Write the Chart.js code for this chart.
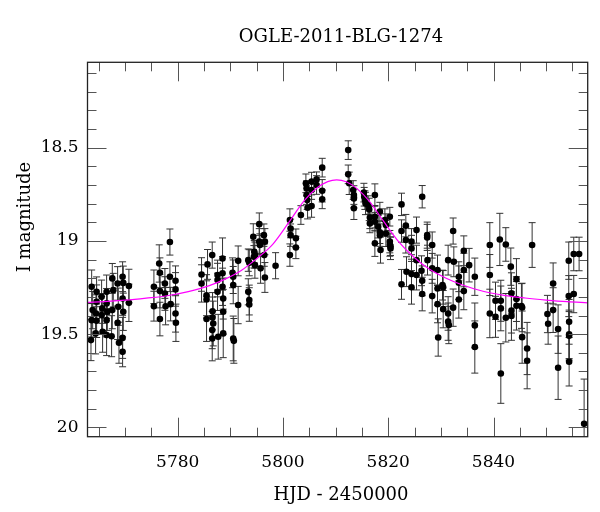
<!DOCTYPE html>
<html>
<head>
<meta charset="utf-8">
<script src="https://cdn.jsdelivr.net/npm/chart.js@4.4.1/dist/chart.umd.min.js"></script>
<style>
  html, body { margin: 0; padding: 0; background: #fff; }
</style>
</head>
<body>
<canvas id="lc" width="600" height="512"></canvas>
<script>
const titleText = 'OGLE-2011-BLG-1274';
const xLabel = 'HJD - 2450000';
const yLabel = 'I magnitude';
const xTicks = [5780, 5800, 5820, 5840];
const yTicks = [18.5, 19, 19.5, 20];
const xRange = [5762.85, 5857.9];
const yRange = [18.042, 20.05];

// OGLE photometry
const hjd = [
  5763.64,5763.83,5763.64,5763.51, 5764.58,5764.58,5764.46,5764.58,5764.39,
  5765.53,5765.66,5765.53,5765.72, 5766.48,5766.48,5766.61,5766.48,5766.48,
  5767.56,5767.75,5767.56,5767.43, 5768.57,5768.70,5768.57,5768.83,
  5769.52,5769.65,5769.52,5769.65,5769.52,5769.52, 5770.72,5770.72,
  5775.47,5775.47,5776.48,5776.61,5776.61,5776.61,5777.56,5777.56,5777.69,5778.51,5778.51,5778.64,5779.58,5779.58,5779.58,5779.65,
  5784.52,5784.52,5785.47,5785.47,5785.47,5785.66,5786.55,5786.61,5786.61,5786.74,5786.55,5786.55,5787.56,5787.56,5787.56,
  5787.69,5788.51,5788.51,5788.51,5788.64,5788.64,5788.64,5790.41,5790.54,5790.54,5790.54,5790.66,5791.48,5791.48,
  5793.40,5793.59,5793.40,5793.59,5793.59,5794.35,5794.54,5794.66,5794.47,5794.66,5795.49,5795.49,5795.61,5795.74,
  5796.37,5796.56,5796.44,5796.56,5798.59,
  5801.31,5801.44,5801.44,5801.31,5802.45,5802.45,5803.40,5804.35,5804.48,5804.48,5804.60,5804.67,5805.43,5805.43,
  5805.43,5806.38,5806.38,5807.45,5807.45,5807.45,
  5812.39,5812.39,5812.58,5813.34,5813.47,5813.47,5813.47,
  5815.37,5815.43,5815.56,5815.68,5816.19,5816.38,5816.51,5816.51,5817.46,5817.46,5817.46,5817.46,5818.09,5818.41,
  5818.41,5818.53,5818.41,5819.36,5819.55,5819.55,5820.30,5820.30,5820.30,5820.43,5820.43,
  5822.52,5822.52,5822.52,5823.34,5823.34,5823.47,5824.42,5824.42,5824.42,5824.42,
  5825.37,5825.37,5825.37,5826.45,5826.32,5826.45,5826.45,5827.40,5827.40,5827.46,
  5828.35,5828.35,5828.35,5829.36,5829.36,5829.36,5829.49,5830.31,5830.44,5830.44,
  5831.38,5831.38,5831.38,5831.51,5832.33,5832.46,5832.33,5833.41,5833.41,5833.41,
  5834.36,5834.36,5834.36,5835.37,5836.45,5836.45,5836.45,5839.30,5839.30,5839.30,
  5840.38,5840.38,5841.20,5841.39,5841.39,5841.39,5842.34,5842.34,5843.29,5843.41,
  5843.41,5843.41,5844.36,5844.36,5844.36,5845.31,5845.44,5845.44,5846.39,5846.39,
  5847.34,5850.25,5850.38,5851.33,5851.33,5852.28,5852.28,5854.30,5854.30,5854.37,
  5854.37,5854.37,5854.37,5855.25,5855.25,5856.27,5857.22
];
const mag = [
  19.246,19.371,19.425,19.532, 19.273,19.326,19.389,19.428,19.496,
  19.300,19.362,19.398,19.487, 19.273,19.335,19.380,19.425,19.505,
  19.201,19.264,19.371,19.511, 19.228,19.353,19.439,19.546,
  19.192,19.225,19.309,19.380,19.520,19.595, 19.242,19.332,
  19.246,19.350,19.121,19.171,19.269,19.419,19.228,19.282,19.350,19.006,19.192,19.339,19.214,19.260,19.389,19.439,
  19.180,19.228,19.291,19.314,19.419,19.126,19.076,19.377,19.411,19.443,19.478,19.523,19.183,19.210,19.273,
  19.514,19.094,19.174,19.246,19.309,19.380,19.496,19.171,19.192,19.237,19.523,19.536,19.107,19.344,
  19.103,19.117,19.273,19.317,19.341,18.978,19.058,19.076,19.085,19.130,18.910,19.004,19.022,19.147,
  18.969,19.004,19.076,19.196,19.133,
  18.888,18.933,18.969,19.076,18.986,19.035,18.861,18.691,18.718,18.754,18.781,18.822,18.682,18.727,
  18.813,18.670,18.700,18.607,18.731,18.777,
  18.513,18.643,18.691,18.727,18.754,18.772,18.825,
  18.741,18.763,18.781,18.799,18.808,18.831,18.874,18.906,18.754,18.870,18.897,19.013,18.924,18.954,
  18.969,19.049,18.843,18.888,18.915,18.960,18.870,19.004,19.022,19.028,19.040,
  18.804,18.947,19.233,18.918,18.995,19.165,19.004,19.040,19.178,19.249,
  18.942,19.183,19.103,18.763,19.160,19.214,19.285,18.969,18.981,19.103,
  19.022,19.147,19.296,19.156,19.255,19.339,19.518,19.237,19.249,19.366,
  19.103,19.389,19.433,19.451,18.947,19.112,19.358,19.192,19.224,19.314,
  19.053,19.156,19.269,19.130,19.192,19.453,19.569,19.022,19.183,19.389,
  19.321,19.407,18.992,19.321,19.362,19.711,19.019,19.412,19.138,19.281,
  19.374,19.403,19.205,19.312,19.348,19.349,19.357,19.516,19.577,19.643,
  19.022,19.392,19.444,19.228,19.371,19.473,19.680,19.106,19.296,19.434,
  19.501,19.509,19.648,19.070,19.285,19.070,19.981
];
const magErr = [
  0.09,0.10,0.09,0.11, 0.08,0.09,0.10,0.09,0.11,
  0.09,0.08,0.10,0.11, 0.09,0.08,0.10,0.09,0.11,
  0.08,0.09,0.10,0.11, 0.09,0.10,0.09,0.11,
  0.08,0.09,0.09,0.10,0.11,0.08, 0.09,0.10,
  0.09,0.08,0.10,0.08,0.09,0.09,0.08,0.09,0.10,0.07,0.08,0.09,0.08,0.09,0.10,0.10,
  0.09,0.10,0.11,0.10,0.12,0.08,0.07,0.10,0.11,0.12,0.10,0.12,0.08,0.09,0.10,
  0.12,0.11,0.09,0.10,0.11,0.12,0.13,0.08,0.09,0.10,0.12,0.12,0.08,0.10,
  0.06,0.07,0.07,0.08,0.09,0.07,0.06,0.07,0.06,0.07,0.06,0.07,0.06,0.08,
  0.06,0.07,0.06,0.08,0.07,
  0.06,0.05,0.06,0.06,0.05,0.06,0.05,0.05,0.04,0.05,0.05,0.06,0.05,0.05,
  0.06,0.04,0.05,0.05,0.06,0.05,
  0.05,0.05,0.06,0.05,0.05,0.05,0.06,
  0.05,0.05,0.05,0.06,0.05,0.06,0.06,0.05,0.06,0.06,0.05,0.07,0.06,0.06,
  0.06,0.07,0.05,0.06,0.06,0.07,0.05,0.06,0.06,0.05,0.06,
  0.06,0.06,0.08,0.06,0.07,0.08,0.07,0.07,0.08,0.09,
  0.07,0.08,0.08,0.06,0.08,0.08,0.09,0.07,0.07,0.08,
  0.07,0.08,0.09,0.08,0.09,0.10,0.10,0.08,0.09,0.10,
  0.08,0.09,0.10,0.10,0.07,0.08,0.10,0.08,0.09,0.10,
  0.08,0.09,0.10,0.09,0.10,0.12,0.14,0.12,0.11,0.13,
  0.10,0.11,0.14,0.11,0.12,0.16,0.09,0.13,0.10,0.11,
  0.12,0.13,0.11,0.12,0.13,0.12,0.13,0.14,0.14,0.15,
  0.12,0.10,0.11,0.11,0.12,0.13,0.17,0.10,0.11,0.12,
  0.13,0.13,0.13,0.09,0.10,0.09,0.24
];

// model light curve (magenta)
const modelHjd = [
  5762.85, 5766, 5770, 5774, 5778, 5782, 5786, 5789, 5792, 5795, 5798, 5801, 5804, 5806.5, 5808.5,
  5810.2, 5812, 5814, 5816.5, 5819, 5822, 5825, 5828, 5831, 5834, 5838, 5842, 5846, 5850, 5854, 5857.9
];
const modelMag = [
  19.330, 19.326, 19.318, 19.307, 19.294, 19.272, 19.240, 19.205, 19.160, 19.095, 19.020, 18.905, 18.785, 18.715, 18.682,
  18.673, 18.683, 18.718, 18.790, 18.890, 19.005, 19.090, 19.155, 19.200, 19.235, 19.270, 19.292, 19.306, 19.317, 19.326, 19.332
];

const xMinorStep = 5;
const yMinorStep = 0.1;

const serif = "'DejaVu Serif', serif";

const errorBars = {
  id: 'errorBars',
  beforeDatasetsDraw(chart) {
    const { ctx, chartArea: a, scales: { x, y } } = chart;
    ctx.save();
    ctx.beginPath();
    ctx.rect(a.left, a.top, a.right - a.left, a.bottom - a.top);
    ctx.clip();
    ctx.strokeStyle = '#333';
    ctx.lineWidth = 1;
    hjd.forEach((t, i) => {
      const px = x.getPixelForValue(t);
      const y1 = y.getPixelForValue(mag[i] - magErr[i]);
      const y2 = y.getPixelForValue(mag[i] + magErr[i]);
      ctx.beginPath();
      ctx.moveTo(px, y1);
      ctx.lineTo(px, y2);
      ctx.moveTo(px - 3.5, y1);
      ctx.lineTo(px + 3.5, y1);
      ctx.moveTo(px - 3.5, y2);
      ctx.lineTo(px + 3.5, y2);
      ctx.stroke();
    });
    ctx.restore();
  },
};

const frame = {
  id: 'frame',
  afterDraw(chart) {
    const { ctx, chartArea: a, scales: { x, y } } = chart;
    ctx.save();
    ctx.strokeStyle = '#555';
    ctx.lineWidth = 1;
    ctx.beginPath();
    const isMajor = (v, list) => list.some(m => Math.abs(m - v) < 1e-6);
    for (let v = Math.ceil(x.min / xMinorStep) * xMinorStep; v <= x.max; v += xMinorStep) {
      const px = Math.round(x.getPixelForValue(v)) + 0.5;
      const len = isMajor(v, xTicks) ? 19 : 9;
      ctx.moveTo(px, a.bottom); ctx.lineTo(px, a.bottom - len);
      ctx.moveTo(px, a.top); ctx.lineTo(px, a.top + len);
    }
    for (let k = Math.ceil(y.min / yMinorStep); k * yMinorStep <= y.max; k++) {
      const v = +(k * yMinorStep).toFixed(2);
      const py = Math.round(y.getPixelForValue(v)) + 0.5;
      const len = isMajor(v, yTicks) ? 19 : 9;
      ctx.moveTo(a.left, py); ctx.lineTo(a.left + len, py);
      ctx.moveTo(a.right, py); ctx.lineTo(a.right - len, py);
    }
    ctx.stroke();
    ctx.strokeStyle = '#222';
    ctx.lineWidth = 1.3;
    ctx.strokeRect(a.left, a.top, a.right - a.left, a.bottom - a.top);

    ctx.fillStyle = '#000';
    ctx.textAlign = 'center';
    ctx.textBaseline = 'middle';
    ctx.font = '18px ' + serif;
    ctx.fillText(titleText, 341, 37);
    ctx.fillText(xLabel, 341, 495);
    ctx.translate(25, 217);
    ctx.rotate(-Math.PI / 2);
    ctx.fillText(yLabel, 0, 0);
    ctx.restore();
  },
};

new Chart(document.getElementById('lc'), {
  data: {
    datasets: [
      {
        type: 'line',
        label: 'model',
        data: modelHjd.map((t, i) => ({ x: t, y: modelMag[i] })),
        borderColor: '#ff00ff',
        borderWidth: 1.2,
        pointRadius: 0,
        cubicInterpolationMode: 'monotone',
        fill: false,
        order: 0,
      },
      {
        type: 'scatter',
        label: 'OGLE',
        data: hjd.map((t, i) => ({ x: t, y: mag[i] })),
        backgroundColor: '#000',
        borderWidth: 0,
        pointRadius: 3.3,
        order: 1,
      },
    ],
  },
  options: {
    responsive: false,
    animation: false,
    devicePixelRatio: 1,
    layout: { padding: { left: 0, top: 62.3, right: 12.3, bottom: 0 } },
    plugins: { legend: { display: false }, tooltip: { enabled: false } },
    scales: {
      x: {
        type: 'linear',
        min: xRange[0],
        max: xRange[1],
        grid: { display: false, drawTicks: false },
        border: { display: false },
        afterBuildTicks: s => { s.ticks = xTicks.map(v => ({ value: v })); },
        afterFit: s => { s.height = 512 - 436.7; },
        ticks: {
          color: '#000', font: { family: serif, size: 17 }, padding: 16, maxRotation: 0,
          callback: v => String(v),
        },
      },
      y: {
        type: 'linear',
        reverse: true,
        min: yRange[0],
        max: yRange[1],
        grid: { display: false, drawTicks: false },
        border: { display: false },
        afterBuildTicks: s => { s.ticks = yTicks.map(v => ({ value: v })); },
        afterFit: s => { s.width = 87.5; },
        ticks: {
          color: '#000', font: { family: serif, size: 17 }, padding: 9,
          callback: v => String(v),
        },
      },
    },
  },
  plugins: [errorBars, frame],
});
</script>
</body>
</html>
